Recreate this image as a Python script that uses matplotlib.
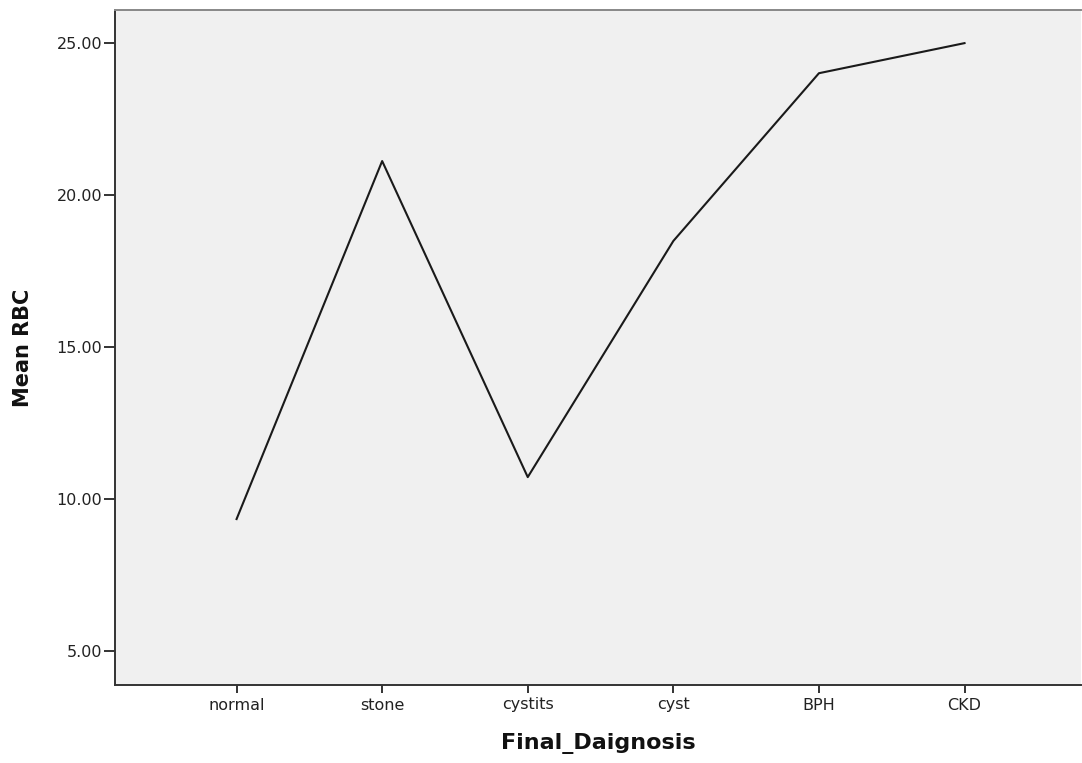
import numpy as np
import matplotlib.pyplot as plt

plt.rcParams['font.family'] = ['DejaVu Sans']

categories = ['normal', 'stone', 'cystits', 'cyst', 'BPH', 'CKD']
mean_rbc = [9.34, 21.12, 10.72, 18.49, 24.01, 25.00]
yticks = [5, 10, 15, 20, 25]

fig = plt.figure(figsize=(10.82, 7.63), dpi=100)
ax = fig.add_axes([115 / 1082, 78 / 763, 966 / 1082, 675 / 763])
ax.set_facecolor('#f0f0f0')

x = np.arange(len(categories))
ax.plot(x, mean_rbc, color='#1a1a1a', linewidth=1.5)

ax.set_xticks(x)
ax.set_xticklabels(categories)
ax.set_yticks(yticks)
ax.set_yticklabels(['%.2f' % v for v in yticks])
ax.set_xlim(-0.835, 5.8)
ax.set_ylim(3.88, 26.09)

for s in ['left', 'bottom']:
    ax.spines[s].set_color('#333333')
    ax.spines[s].set_linewidth(1.4)
ax.spines['top'].set_color('#888888')
ax.spines['top'].set_linewidth(1.4)
ax.spines['right'].set_visible(False)

ax.tick_params(axis='both', direction='out', width=1.4, color='#333333',
               labelsize=11.5, labelcolor='#222222')
ax.tick_params(axis='x', length=6, pad=3)
ax.tick_params(axis='y', length=8, pad=1)

ax.set_xlabel('Final_Daignosis', fontsize=16, fontweight='bold', color='#111111')
ax.set_ylabel('Mean RBC', fontsize=15, fontweight='bold', color='#111111')
ax.xaxis.label.set_va('center')
ax.xaxis.set_label_coords(0.5, -0.086)
ax.yaxis.label.set_va('center')
ax.yaxis.set_label_coords(-0.095, 0.5)

fig.savefig('out.png', dpi=100)
